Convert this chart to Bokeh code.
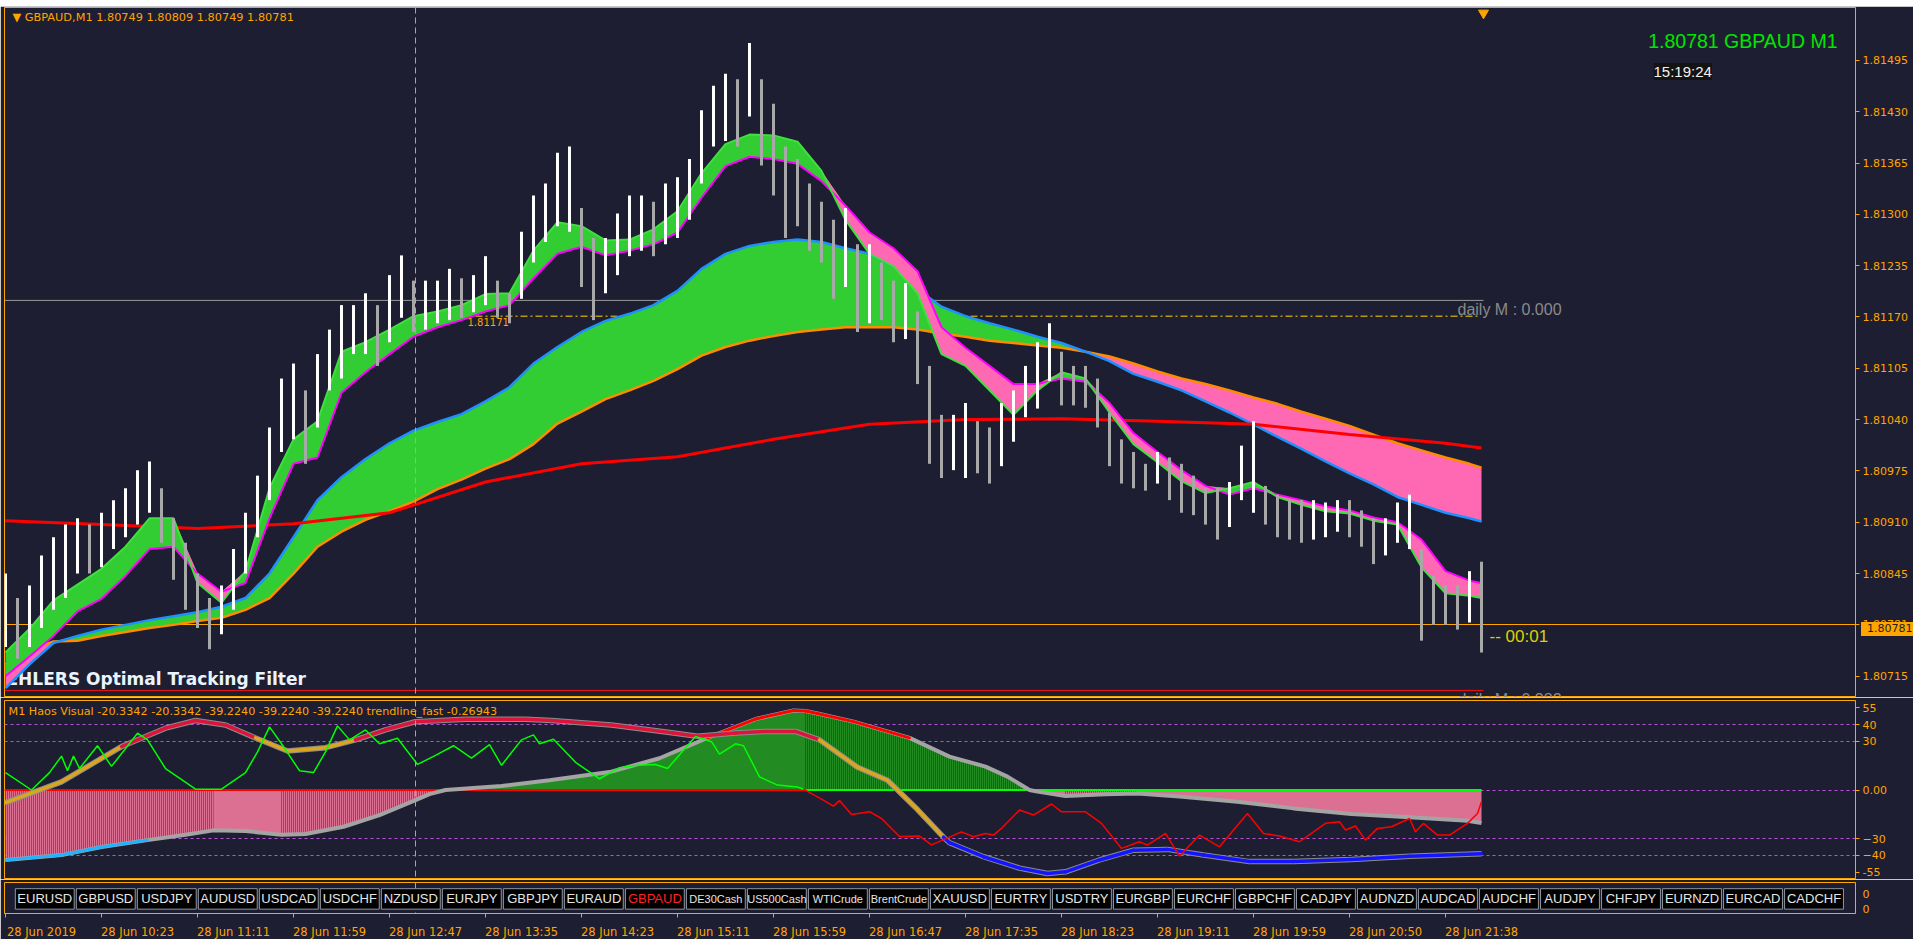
import numpy as np
from bokeh.plotting import figure
from bokeh.models import Range1d, FixedTicker, Label, PrintfTickFormatter, LinearAxis, Div
from bokeh.layouts import column
from bokeh.embed import file_html
from bokeh.resources import INLINE
from bokeh.core.properties import value

BG = "#1e1e32"
ORANGE = "#ffa500"
AXF = "DejaVu Sans"

# ---------------- data: main price panel ----------------
bar_x = list(range(0, 739, 6))
bar_high = [1.80845, 1.80814, 1.80830, 1.80868, 1.80891, 1.80907, 1.80915, 1.80907, 1.80922, 1.80938,
            1.80953, 1.80976, 1.80987, 1.80953, 1.80915, 1.80884, 1.80845, 1.80814, 1.80830, 1.80876,
            1.80922, 1.80969, 1.81030, 1.81092, 1.81111, 1.81077, 1.81123, 1.81154, 1.81185, 1.81185,
            1.81200, 1.81185, 1.81223, 1.81248, 1.81216, 1.81216, 1.81216, 1.81231, 1.81219, 1.81223,
            1.81247, 1.81216, 1.81200, 1.81278, 1.81324, 1.81339, 1.81378, 1.81386, 1.81308, 1.81270,
            1.81270, 1.81301, 1.81324, 1.81324, 1.81316, 1.81339, 1.81347, 1.81370, 1.81432, 1.81463,
            1.81478, 1.81471, 1.81517, 1.81471, 1.81440, 1.81386, 1.81370, 1.81339, 1.81316, 1.81293,
            1.81308, 1.81262, 1.81262, 1.81239, 1.81216, 1.81213, 1.81177, 1.81108, 1.81046, 1.81046,
            1.81061, 1.81038, 1.81030, 1.81061, 1.81077, 1.81108, 1.81138, 1.81162, 1.81126, 1.81108,
            1.81108, 1.81092, 1.81049, 1.81015, 1.80999, 1.80984, 1.80999, 1.80992, 1.80984, 1.80969,
            1.80953, 1.80953, 1.80961, 1.81007, 1.81038, 1.80956, 1.80945, 1.80938, 1.80938, 1.80938,
            1.80935, 1.80938, 1.80938, 1.80925, 1.80915, 1.80915, 1.80935, 1.80945, 1.80876, 1.80842,
            1.80830, 1.80830, 1.80848, 1.80860]
bar_low = [1.80752, 1.80737, 1.80752, 1.80776, 1.80799, 1.80814, 1.80845, 1.80845, 1.80853, 1.80876,
           1.80891, 1.80907, 1.80922, 1.80884, 1.80837, 1.80799, 1.80776, 1.80749, 1.80768, 1.80799,
           1.80845, 1.80891, 1.80938, 1.80999, 1.81015, 1.80984, 1.81030, 1.81077, 1.81092, 1.81123,
           1.81123, 1.81108, 1.81138, 1.81169, 1.81151, 1.81154, 1.81162, 1.81166, 1.81169, 1.81176,
           1.81185, 1.81169, 1.81162, 1.81193, 1.81239, 1.81265, 1.81285, 1.81278, 1.81208, 1.81166,
           1.81200, 1.81223, 1.81247, 1.81254, 1.81247, 1.81262, 1.81270, 1.81293, 1.81339, 1.81386,
           1.81393, 1.81386, 1.81424, 1.81362, 1.81324, 1.81270, 1.81285, 1.81254, 1.81239, 1.81193,
           1.81208, 1.81151, 1.81162, 1.81166, 1.81138, 1.81142, 1.81085, 1.80984, 1.80966, 1.80976,
           1.80966, 1.80972, 1.80959, 1.80981, 1.81012, 1.81043, 1.81054, 1.81089, 1.81058, 1.81058,
           1.81055, 1.81030, 1.80981, 1.80959, 1.80953, 1.80950, 1.80959, 1.80938, 1.80922, 1.80919,
           1.80907, 1.80888, 1.80904, 1.80938, 1.80922, 1.80907, 1.80891, 1.80888, 1.80884, 1.80888,
           1.80891, 1.80898, 1.80891, 1.80879, 1.80857, 1.80868, 1.80884, 1.80876, 1.80760, 1.80780,
           1.80780, 1.80774, 1.80783, 1.80745]

band_x = list(range(0, 733, 12)) + [738]
fast_line = [1.80745, 1.80775, 1.80811, 1.80831, 1.80851, 1.80879, 1.80915, 1.80915, 1.80833, 1.80808,
             1.80848, 1.80953, 1.81015, 1.81038, 1.81126, 1.81138, 1.81154, 1.81171, 1.81177, 1.81185,
             1.81199, 1.81200, 1.81254, 1.81290, 1.81285, 1.81267, 1.81268, 1.81281, 1.81304, 1.81352,
             1.81389, 1.81401, 1.81400, 1.81392, 1.81355, 1.81293, 1.81250, 1.81234, 1.81200, 1.81123,
             1.81108, 1.81077, 1.81046, 1.81077, 1.81100, 1.81092, 1.81049, 1.81009, 1.80986, 1.80962,
             1.80947, 1.80953, 1.80961, 1.80942, 1.80932, 1.80924, 1.80921, 1.80912, 1.80907, 1.80853,
             1.80820, 1.80817, 1.80814]
fast_signal = [1.80715, 1.80740, 1.80766, 1.80797, 1.80813, 1.80842, 1.80876, 1.80879, 1.80845, 1.80822,
               1.80833, 1.80915, 1.80984, 1.80992, 1.81074, 1.81100, 1.81123, 1.81145, 1.81157, 1.81166,
               1.81177, 1.81185, 1.81219, 1.81250, 1.81259, 1.81248, 1.81254, 1.81262, 1.81277, 1.81321,
               1.81361, 1.81373, 1.81370, 1.81364, 1.81342, 1.81311, 1.81277, 1.81257, 1.81228, 1.81157,
               1.81131, 1.81108, 1.81085, 1.81085, 1.81092, 1.81088, 1.81061, 1.81023, 1.80999, 1.80976,
               1.80956, 1.80945, 1.80953, 1.80945, 1.80938, 1.80930, 1.80925, 1.80916, 1.80910, 1.80888,
               1.80848, 1.80836, 1.80833]
slow_blue = [1.80700, 1.80730, 1.80757, 1.80766, 1.80774, 1.80780, 1.80786, 1.80791, 1.80796, 1.80803,
             1.80814, 1.80845, 1.80891, 1.80938, 1.80967, 1.80990, 1.81010, 1.81026, 1.81037, 1.81047,
             1.81063, 1.81081, 1.81111, 1.81132, 1.81151, 1.81165, 1.81174, 1.81185, 1.81203, 1.81231,
             1.81250, 1.81260, 1.81265, 1.81268, 1.81265, 1.81257, 1.81250, 1.81234, 1.81205, 1.81183,
             1.81171, 1.81162, 1.81154, 1.81145, 1.81137, 1.81126, 1.81114, 1.81098, 1.81088, 1.81077,
             1.81063, 1.81049, 1.81034, 1.81018, 1.81003, 1.80987, 1.80972, 1.80958, 1.80942, 1.80932,
             1.80922, 1.80915, 1.80911]
slow_orange = [1.80730, 1.80748, 1.80759, 1.80760, 1.80766, 1.80771, 1.80776, 1.80780, 1.80785, 1.80789,
               1.80799, 1.80814, 1.80845, 1.80879, 1.80898, 1.80913, 1.80924, 1.80936, 1.80952, 1.80964,
               1.80978, 1.80990, 1.81009, 1.81035, 1.81050, 1.81066, 1.81077, 1.81089, 1.81104, 1.81121,
               1.81132, 1.81140, 1.81146, 1.81151, 1.81154, 1.81157, 1.81157, 1.81157, 1.81154, 1.81149,
               1.81145, 1.81140, 1.81137, 1.81134, 1.81131, 1.81126, 1.81120, 1.81111, 1.81101, 1.81092,
               1.81085, 1.81077, 1.81068, 1.81060, 1.81050, 1.81041, 1.81032, 1.81021, 1.81010, 1.81001,
               1.80992, 1.80984, 1.80979]
ma_x = [0, 48, 96, 144, 192, 240, 288, 336, 384, 432, 480, 528, 576, 624, 672, 720, 738]
ma_y = [1.80912, 1.80907, 1.80902, 1.80908, 1.80922, 1.80961, 1.80984, 1.80993, 1.81015, 1.81034,
        1.81040, 1.81041, 1.81038, 1.81034, 1.81021, 1.81010, 1.81004]

fib_levels = [1.81191, 1.80697]
fib_labels = ["daily M : 0.000", "daily M : 0.382"]
fib_end_bar = 739
fib_label_bar = 726
trend_price = 1.81171
trend_start, trend_end = 205, 737
current_price = 1.80781
vline_bar = 205

price_ticks = [1.80715, 1.80781, 1.80845, 1.80910, 1.80975, 1.81040, 1.81105, 1.81170, 1.81235,
               1.81300, 1.81365, 1.81430, 1.81495]

# ---------------- data: oscillator panel ----------------
hist_x = [0, 28, 48, 71, 90, 104, 120, 138, 150, 169, 187, 205, 212, 220, 248, 272, 302, 327, 351, 375,
          394, 400, 406, 424, 452, 472, 490, 501, 512, 516, 530, 550, 566, 587, 616, 644, 673, 702, 731, 738]
hist_v = [-43, -40, -35, -30.8, -27.5, -24.8, -25.2, -27.5, -27, -22.6, -15.4, -6.2, -2.5, 0, 2.5, 6, 11,
          19.5, 32, 43.6, 48.9, 48.5, 47, 42, 32, 20.5, 14.4, 8.2, 0, -1, -3.7, -2.6, -2.2, -4, -7.2,
          -11.3, -14.8, -16.8, -18.9, -20.3342]
hist_seg_start = [0, 104, 138, 220, 400, 512, 530, 566]
hist_seg_end = [104, 138, 220, 400, 512, 530, 566, 738]
hist_seg_kind = ["down", "down", "down", "up", "up", "down", "down", "down"]
hist_seg_striped = [True, False, True, False, True, False, True, False]

slow_x = [0, 28, 58, 80, 95, 110, 125, 141, 160, 175, 190, 205, 230, 260, 273, 303, 334, 346, 365, 380,
          395, 407, 426, 441, 456, 469, 472, 489, 507, 521, 530, 547, 564, 581, 599, 622, 644, 673, 702, 738]
slow_v = [-7.8, 5, 26.7, 38, 42.7, 40, 32, 24, 26, 30.8, 37, 42, 43.5, 43.5, 42.7, 40, 35, 33, 35, 36,
          36, 30.8, 14, 6, -12, -29, -32.4, -41, -48, -51.3, -50.3, -43, -37, -36.5, -40, -44, -44,
          -42.7, -40.7, -39.224]

fast_up_x = [0, 13, 22, 28, 31, 34, 37, 46, 53, 66, 71, 80, 89, 95, 108, 120, 126, 132, 138, 147,
             154, 160, 166, 172, 180, 187, 196, 206, 215, 224, 233, 242, 248, 258, 264, 267, 274, 285,
             297, 307, 316, 325, 331, 345, 353, 357, 365, 369, 377, 386, 396, 399]
fast_up_v = [10.7, 0, 10.7, 20.8, 11.9, 20.8, 13.2, 27.2, 14.5, 34.9, 30.8, 13.2, 5.6, 0.5, 0.5, 10.7,
             23.4, 38.8, 28.4, 11.9, 10.7, 23.4, 39.4, 30.8, 36.9, 28.4, 31.8, 15.7, 21.3, 27.2, 19.6,
             27.9, 15.2, 30.8, 33.9, 28.4, 31.2, 17, 6.9, 13.7, 15.2, 15.7, 13.2, 32.9, 29.7, 22.1,
             28.4, 27.2, 8.1, 3, 1.8, 0.5]
fast_dn_x = [399, 408, 414, 417, 423, 432, 438, 447, 457, 463, 470, 478, 484, 490, 494, 498, 507, 514,
             523, 528, 540, 548, 558, 567, 571, 580, 587, 597, 607, 621, 629, 637, 647, 660, 667, 670,
             675, 680, 686, 693, 702, 705, 709, 716, 722, 731, 736, 738]
fast_dn_v = [0.5, -5.6, -9.9, -6.5, -15, -13.3, -17.5, -28.6, -28.3, -33.7, -30, -25.7, -28.7, -26.7,
             -27.7, -23.6, -12.3, -15.4, -8.6, -13.4, -13.4, -20.5, -35.9, -31.8, -33.9, -26.7, -40.7,
             -27.7, -34.9, -14.4, -26.7, -28.3, -31.8, -20.5, -19.5, -24.6, -22.1, -30.8, -23.6, -22.6,
             -17.5, -25.7, -20.5, -27.7, -27.7, -20.5, -14.4, -7.2]
zero_switch_bar = 400
osc_levels = [40, 30, 0, -30, -40]

# ---------------- data: symbols and time axis ----------------
symbols = ["EURUSD", "GBPUSD", "USDJPY", "AUDUSD", "USDCAD", "USDCHF", "NZDUSD", "EURJPY", "GBPJPY",
           "EURAUD", "GBPAUD", "DE30Cash", "US500Cash", "WTICrude", "BrentCrude", "XAUUSD", "EURTRY",
           "USDTRY", "EURGBP", "EURCHF", "GBPCHF", "CADJPY", "AUDNZD", "AUDCAD", "AUDCHF", "AUDJPY",
           "CHFJPY", "EURNZD", "EURCAD", "CADCHF"]
active_symbol = "GBPAUD"
tick_bars = list(range(0, 721, 48))
tick_labels = ["28 Jun 2019", "28 Jun 10:23", "28 Jun 11:11", "28 Jun 11:59", "28 Jun 12:47",
               "28 Jun 13:35", "28 Jun 14:23", "28 Jun 15:11", "28 Jun 15:59", "28 Jun 16:47",
               "28 Jun 17:35", "28 Jun 18:23", "28 Jun 19:11", "28 Jun 19:59", "28 Jun 20:50",
               "28 Jun 21:38"]
label_shift_bars = 18   # time labels are written to the right of their tick, as in the terminal

# ---------------- figures ----------------
FW = 1851
LB, RB = 4, 58
MAIN_H = 690
xr = Range1d(-0.5, 925)
yr_main = Range1d(1.80688, 1.81562)


def make_fig(h, yr, top, xloc=None, bottom=0):
    f = figure(frame_width=FW, frame_height=h, x_range=xr, y_range=yr, output_backend="svg",
               toolbar_location=None, background_fill_color=BG, border_fill_color=BG,
               min_border_left=LB, min_border_right=RB, min_border_top=top, min_border_bottom=bottom,
               x_axis_location=xloc, y_axis_location="right")
    f.grid.visible = False
    f.outline_line_color = ORANGE
    f.outline_line_width = 1
    ax = f.yaxis[0]
    ax.axis_line_color = None
    ax.major_tick_line_color = ORANGE
    ax.major_tick_out = 4
    ax.major_tick_in = 0
    ax.minor_tick_line_color = None
    ax.major_label_text_color = ORANGE
    ax.major_label_text_font = AXF
    ax.major_label_text_font_size = "11px"
    ax.major_label_standoff = 3
    return f


# ---- window strip at the top
strip = figure(width=LB + FW + RB, height=6, output_backend="svg", toolbar_location=None,
               x_axis_location=None, y_axis_location=None, min_border=0,
               background_fill_color="#d6d6d6", border_fill_color="#d6d6d6")
strip.grid.visible = False
strip.outline_line_color = None

# ---- main panel
p = make_fig(MAIN_H, yr_main, 1)
p.yaxis.ticker = FixedTicker(ticks=price_ticks)
p.yaxis.formatter = PrintfTickFormatter(format="%.5f")

p.text(x=[0], y=[fib_levels[1]], text=["EHLERS Optimal Tracking Filter"], text_font=value("DejaVu Sans"),
       text_font_style="bold", text_font_size="17px", text_color="#eaf4ff", text_baseline="bottom",
       x_offset=1, y_offset=-1)

p.segment(x0=[-0.5] * 2, y0=fib_levels, x1=[fib_end_bar] * 2, y1=fib_levels,
          line_color=["#9a9a9a", "#ff1010"], line_width=1)
p.segment(x0=[trend_start], y0=[trend_price], x1=[trend_end], y1=[trend_price],
          line_color="#ffd700", line_dash="7 3 2 3", line_width=1)
p.hspan(y=[current_price], line_color=ORANGE, line_width=1)

bx = np.array(band_x, float)
sb, so = np.array(slow_blue), np.array(slow_orange)
p.varea(x=bx, y1=so, y2=np.maximum(sb, so), fill_color="#32cd32")
p.varea(x=bx, y1=sb, y2=np.maximum(sb, so), fill_color="#ff69b4")
p.line(bx, so, line_color="#ff8c00", line_width=2.5)
p.line(bx, sb, line_color="#1e90ff", line_width=2.5)

p.line(ma_x, ma_y, line_color="#ff0000", line_width=3)

fa, fb = np.array(fast_line), np.array(fast_signal)
p.varea(x=bx, y1=fb, y2=np.maximum(fa, fb), fill_color="#32cd32")
p.varea(x=bx, y1=fa, y2=np.maximum(fa, fb), fill_color="#ff69b4")
p.line(bx, fb, line_color="#ff00ff", line_width=2)
p.line(bx, fa, line_color="#3ee03e", line_width=2)

hi, lo = np.array(bar_high), np.array(bar_low)
mid = (hi + lo) / 2
up = np.concatenate([[True], mid[1:] >= mid[:-1]])
bar_cols = ["#ffffff" if u else "#a8a8a8" for u in up]
p.segment(x0=bar_x, y0=lo, x1=bar_x, y1=hi, line_color=bar_cols, line_width=3)

p.vspan(x=[vline_bar], line_color="#e6a800", line_dash="6 4", line_width=1)

p.text(x=[fib_label_bar] * 2, y=fib_levels, text=fib_labels, text_font=value("Liberation Sans"),
       text_font_size="16px", text_color="#8a8a8a", text_baseline="top", y_offset=1)
p.text(x=[trend_start + 26], y=[trend_price], text=["1.81171"], text_font=value(AXF),
       text_font_size="10px", text_color=ORANGE, text_baseline="top", y_offset=2)
p.scatter(x=[bar_x[-1] + 1], y=[1.81555], marker="inverted_triangle", size=10,
          fill_color=ORANGE, line_color=ORANGE)

p.add_layout(Label(x=8, y=680, x_units="screen", y_units="screen",
                   text="\u25BC  GBPAUD,M1  1.80749 1.80809 1.80749 1.80781",
                   text_color=ORANGE, text_font=AXF, text_font_size="11.3px", text_baseline="middle"))
p.add_layout(Label(x=FW - 18, y=657, x_units="screen", y_units="screen", text="1.80781 GBPAUD M1",
                   text_color="#00e600", text_font="Liberation Sans", text_font_size="19.5px",
                   text_align="right", text_baseline="middle"))
p.add_layout(Label(x=FW - 202, y=626, x_units="screen", y_units="screen", text="15:19:24",
                   text_color="#f2f2f2", text_font="Liberation Sans", text_font_size="15px",
                   text_baseline="middle", background_fill_color="#141414"))
p.add_layout(Label(x=bar_x[-1] + 4, y=current_price, text="--  00:01", text_color="#dcd200",
                   text_font="Liberation Sans", text_font_size="17px", text_baseline="top",
                   y_offset=-3))

# ---- oscillator panel
q = make_fig(179, Range1d(-55, 55), 3)
q.yaxis.ticker = FixedTicker(ticks=[50.5, 40, 30, 0, -30, -40, -50.5])
q.yaxis.major_label_overrides = {50.5: "55", 0: "0.00", -50.5: "-55"}

q.hspan(y=osc_levels, line_color="#b455d8", line_dash="3 3", line_width=1)

hx, hv = np.array(hist_x, float), np.array(hist_v, float)
for s0, s1, kind, striped in zip(hist_seg_start, hist_seg_end, hist_seg_kind, hist_seg_striped):
    m = (hx >= s0) & (hx <= s1)
    kw = dict(fill_color="#228b22" if kind == "up" else "#db7093")
    if striped:
        kw.update(hatch_pattern="vertical_line", hatch_scale=2, hatch_weight=1,
                  hatch_color="#0c3a0c" if kind == "up" else "#4a1a3c")
    q.varea(x=hx[m], y1=np.zeros(m.sum()), y2=hv[m], **kw)

q.segment(x0=[-0.5, zero_switch_bar], y0=[0, 0], x1=[zero_switch_bar, bar_x[-1]], y1=[0, 0],
          line_color=["#ff0000", "#00ff00"], line_width=2)


def level_segments(xs, vs, c_hi, c_mid, c_lo):
    xs, vs = np.array(xs, float), np.array(vs, float)
    mids = (vs[1:] + vs[:-1]) / 2
    cols = [c_hi if mv > 30 else (c_lo if mv < -30 else c_mid) for mv in mids]
    keep = [i for i, c in enumerate(cols) if c is not None]
    return dict(x0=xs[:-1][keep], y0=vs[:-1][keep], x1=xs[1:][keep], y1=vs[1:][keep],
                line_color=[cols[i] for i in keep])


q.line(hx, hv, line_color="#a4a4a4", line_width=4)
q.segment(**level_segments(hist_x, hist_v, "#ff0000", None, "#1eb4ff"), line_width=3, line_cap="round")

q.line(slow_x, slow_v, line_color="#8c8c8c", line_width=5.5)
q.segment(**level_segments(slow_x, slow_v, "#dc143c", "#daa520", "#1414ff"), line_width=3.5,
          line_cap="round")

q.line(fast_up_x, fast_up_v, line_color="#00ff00", line_width=1.5)
q.line(fast_dn_x, fast_dn_v, line_color="#ff0000", line_width=1.5)

q.vspan(x=[vline_bar], line_color="#e6a800", line_dash="6 4", line_width=1)
q.add_layout(Label(x=4, y=168, x_units="screen", y_units="screen",
                   text="M1 Haos Visual -20.3342 -20.3342 -39.2240 -39.2240 -39.2240  trendline_fast -0.26943",
                   text_color=ORANGE, text_font=AXF, text_font_size="11.2px", text_baseline="middle"))

# ---- symbol bar + time axis
s = make_fig(31, Range1d(0, 1), 3, xloc="below", bottom=26)
s.extra_x_ranges = {"btn": Range1d(-0.16, 30.18)}
s.yaxis.ticker = FixedTicker(ticks=[0.62, 0.14])
s.yaxis.major_label_overrides = {0.62: "0", 0.14: "0"}
s.yaxis.major_tick_line_color = None

s.vspan(x=[vline_bar], line_color="#e6a800", line_dash="6 4", line_width=1)
btn_x = [i + 0.5 for i in range(len(symbols))]
s.rect(x=btn_x, y=0.47, width=0.965, height=0.66, x_range_name="btn", fill_color="#000000",
       line_color="#8e96a0", line_width=1)
btn_col = ["#ff2020" if n == active_symbol else "#e6e6e6" for n in symbols]
btn_fs = ["13px" if len(n) <= 7 else "11px" for n in symbols]
s.text(x=btn_x, y=[0.47] * len(symbols), text=symbols, x_range_name="btn", text_align="center",
       text_baseline="middle", text_color=btn_col, text_font=value("Liberation Sans"),
       text_font_size=btn_fs)

# tick marks at the bar times
xa = s.xaxis[0]
xa.ticker = FixedTicker(ticks=tick_bars)
xa.axis_line_color = None
xa.major_tick_line_color = ORANGE
xa.major_tick_out = 4
xa.major_tick_in = 0
xa.minor_tick_line_color = None
xa.major_label_text_alpha = 0
xa.major_label_text_font_size = "1px"
xa.major_label_standoff = 0

# labels written to the right of each tick
label_pos = [t + label_shift_bars for t in tick_bars]
xl = LinearAxis(ticker=FixedTicker(ticks=label_pos),
                major_label_overrides=dict(zip(label_pos, tick_labels)),
                axis_line_color=None, major_tick_line_color=None, minor_tick_line_color=None,
                major_label_text_color=ORANGE, major_label_text_font=AXF,
                major_label_text_font_size="11.5px", major_label_standoff=1)
s.add_layout(xl, "below")

# current-price tag on the price scale (placed from the price scale mapping)
strip_h = 6
tag_center = strip_h + 1 + (yr_main.end - current_price) / (yr_main.end - yr_main.start) * MAIN_H
tag = Div(text="1.80781", width=54, height=14,
          styles={"position": "absolute", "left": f"{LB + FW + 1}px", "top": f"{tag_center - 7:.0f}px",
                  "background-color": ORANGE, "color": "#1e1e1e", "font-family": "DejaVu Sans",
                  "font-size": "11px", "line-height": "14px", "padding-left": "6px",
                  "box-sizing": "border-box", "z-index": "10"})

layout = column(strip, p, q, s, tag, spacing=0)
open("out.html", "w").write(file_html(layout, INLINE))
